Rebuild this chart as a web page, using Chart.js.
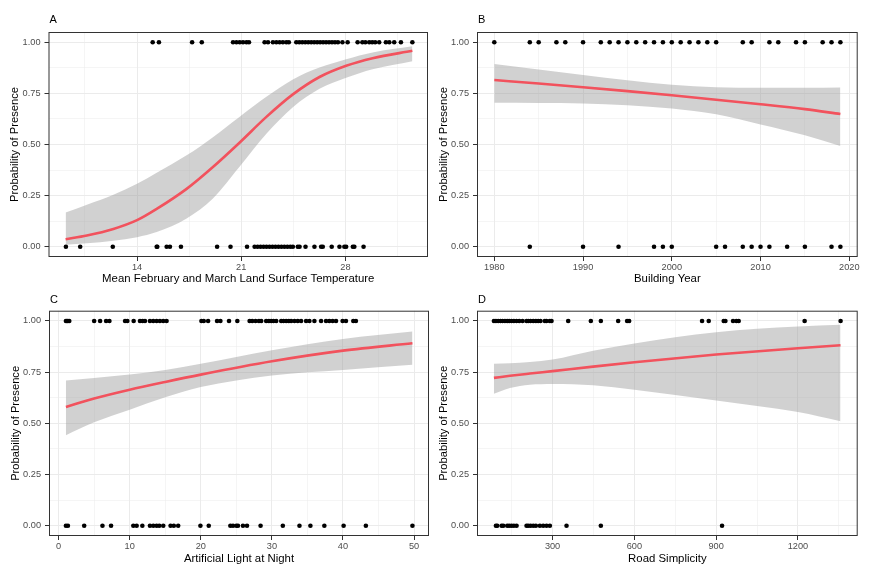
<!DOCTYPE html>
<html>
<head>
<meta charset="utf-8">
<script src="https://cdn.jsdelivr.net/npm/chart.js@4/dist/chart.umd.min.js"></script>
<style>
  body { margin: 0; background: #fff; }
  #wrap { position: relative; width: 872px; height: 574px; }
  canvas { position: absolute; }
</style>
</head>
<body>
<div id="wrap">
  <canvas id="panelA" width="436" height="287" style="left:0;top:0;width:436px;height:287px"></canvas>
  <canvas id="panelB" width="436" height="287" style="left:436px;top:0;width:436px;height:287px"></canvas>
  <canvas id="panelC" width="436" height="287" style="left:0;top:287px;width:436px;height:287px"></canvas>
  <canvas id="panelD" width="436" height="287" style="left:436px;top:287px;width:436px;height:287px"></canvas>
</div>
<script>
// y axis shared by all panels
let probTicks = [0, 0.25, 0.5, 0.75, 1];
let probMinor = [0.125, 0.375, 0.625, 0.875];

// A - land surface temperature
let tempPresent = [15.05, 15.47, 17.70, 18.35, 20.45, 20.68, 20.9, 21.12, 21.35, 21.52, 22.57, 22.8, 23.13, 23.36, 23.58, 23.8, 24.03, 24.2,
  24.7, 24.9, 25.1, 25.3, 25.5, 25.7, 25.9, 26.1, 26.3, 26.5, 26.7, 26.9, 27.1, 27.3, 27.5, 27.8, 28.15, 28.82, 29.14, 29.34, 29.6, 29.8,
  30.0, 30.27, 30.72, 30.95, 31.28, 31.73, 32.5];
let tempAbsent = [9.22, 10.18, 12.37, 15.32, 15.36, 15.99, 16.21, 16.95, 19.38, 20.28, 21.39, 21.9, 22.1, 22.3, 22.5, 22.7, 22.9, 23.1,
  23.3, 23.5, 23.7, 23.9, 24.1, 24.3, 24.47, 24.8, 24.92, 25.32, 25.92, 26.37, 26.48, 27.08, 27.6, 27.93, 28.05, 28.5, 28.6, 29.22];
let tempX     = [9.2, 10.63, 12.41, 14.0, 15.32, 17.33, 19.1, 20.9, 22.69, 24.47, 26.26, 28.05, 29.83, 32.5];
let tempFit   = [0.037, 0.055, 0.087, 0.13, 0.185, 0.283, 0.39, 0.51, 0.635, 0.745, 0.83, 0.885, 0.922, 0.958];
let tempUpper = [0.167, 0.205, 0.254, 0.308, 0.362, 0.447, 0.536, 0.636, 0.733, 0.818, 0.876, 0.917, 0.950, 0.980];
let tempLower = [0.010, 0.017, 0.030, 0.047, 0.072, 0.138, 0.236, 0.392, 0.552, 0.682, 0.772, 0.826, 0.868, 0.907];
let tempTicks = [14, 21, 28];
let tempMinor = [10.5, 17.5, 24.5, 31.5];

// B - building year
let yearPresent = [1980, 1984, 1985, 1987, 1988, 1990, 1992, 1993, 1994, 1995, 1996, 1997, 1998, 1999, 2000, 2001, 2002, 2003, 2004, 2005,
  2008, 2009, 2011, 2012, 2014, 2015, 2017, 2018, 2019];
let yearAbsent = [1984, 1990, 1994, 1998, 1999, 2000, 2005, 2006, 2008, 2009, 2010, 2011, 2013, 2015, 2018, 2019];
let yearX     = [1980, 1985, 1990, 1995, 2000, 2005, 2010, 2015, 2019];
let yearFit   = [0.815, 0.798, 0.780, 0.761, 0.741, 0.719, 0.697, 0.673, 0.649];
let yearUpper = [0.893, 0.867, 0.840, 0.814, 0.792, 0.780, 0.777, 0.777, 0.779];
let yearLower = [0.704, 0.703, 0.701, 0.692, 0.676, 0.648, 0.598, 0.545, 0.493];
let yearTicks = [1980, 1990, 2000, 2010, 2020];
let yearMinor = [1985, 1995, 2005, 2015];

// C - artificial light at night
let lightPresent = [1.03, 1.17, 1.31, 1.5, 5.0, 5.84, 6.68, 7.15, 9.35, 9.67, 10.56, 11.45, 11.82, 12.15, 12.85, 13.32, 13.79, 14.25, 14.72,
  15.19, 20.09, 20.42, 21.03, 22.29, 22.76, 23.97, 25.14, 26.87, 27.24, 27.71, 28.18, 28.5, 29.2, 29.58, 29.91, 30.23, 30.61, 31.31, 31.64,
  32.01, 32.38, 32.71, 33.18, 33.64, 34.11, 34.81, 35.28, 35.98, 36.92, 37.62, 38.08, 38.55, 39.02, 39.95, 40.42, 41.45, 41.82];
let lightAbsent = [1.03, 1.31, 3.6, 6.17, 7.38, 10.51, 10.98, 11.78, 12.85, 13.32, 13.79, 14.16, 14.72, 15.75, 16.21, 16.82, 19.95, 21.12,
  24.16, 24.53, 25.0, 25.23, 25.93, 26.5, 28.41, 31.54, 33.88, 35.42, 37.38, 40.09, 43.22, 49.77];
let lightX     = [1.03, 5, 10, 15, 20, 30, 40, 49.77];
let lightFit   = [0.580, 0.621, 0.664, 0.702, 0.738, 0.803, 0.855, 0.891];
let lightUpper = [0.709, 0.722, 0.739, 0.761, 0.791, 0.857, 0.912, 0.948];
let lightLower = [0.442, 0.505, 0.567, 0.627, 0.677, 0.734, 0.761, 0.786];
let lightTicks = [0, 10, 20, 30, 40, 50];
let lightMinor = [5, 15, 25, 35, 45];

// D - road simplicity
let roadPresent = [85.1, 92.4, 101, 109.5, 116.8, 125.4, 133.9, 141.2, 149.8, 158.3, 168.1, 177.9, 190.1, 204.7, 210.9, 219.4, 229.2,
  238.9, 247.5, 256, 271.9, 278, 290.2, 296.3, 357.4, 440.4, 477.1, 540.6, 573.5, 580.9, 848.3, 872.7, 927.7, 933.8, 961.9, 974.1, 982.6,
  1224.4, 1356.3];
let roadAbsent = [92.4, 97.2, 113.2, 119.3, 133.9, 141.2, 149.8, 158.3, 168.1, 204.7, 210.9, 219.4, 229.2, 238.9, 253.6, 265.8, 278,
  290.2, 351.3, 477.1, 921.6];
let roadX     = [85, 144, 217, 300, 449, 600, 900, 1200, 1356];
let roadFit   = [0.722, 0.732, 0.743, 0.755, 0.777, 0.798, 0.836, 0.867, 0.881];
let roadUpper = [0.791, 0.793, 0.800, 0.812, 0.855, 0.890, 0.945, 0.973, 0.981];
let roadLower = [0.644, 0.672, 0.688, 0.692, 0.686, 0.664, 0.612, 0.555, 0.510];
let roadTicks = [300, 600, 900, 1200];
let roadMinor = [150, 450, 750, 1050, 1350];

const RED = '#F2525D';
const RIBBON = 'rgba(153,153,153,0.45)';
const FONT = 'Liberation Sans, Arial, sans-serif';
Chart.defaults.font.family = FONT;
Chart.defaults.animation = false;

function pairs(xs, ys) {
  return xs.map((x, i) => ({x: x, y: ys[i]}));
}

function isIn(list, v) {
  return list.some(t => Math.abs(t - v) < 1e-6);
}

// panel letter + panel border
const panelDecor = {
  id: 'panelDecor',
  afterDatasetsDraw(chart, args, opts) {
    const c = chart.ctx, a = chart.chartArea;
    c.save();
    c.strokeStyle = '#333333';
    c.lineWidth = 1;
    c.strokeRect(a.left + 0.5, a.top + 0.5, a.right - a.left - 1, a.bottom - a.top - 1);
    c.fillStyle = '#000';
    c.font = '11px ' + FONT;
    c.textBaseline = 'middle';
    c.textAlign = 'left';
    c.fillText(opts.letter, a.left + 1, a.top + opts.letterDy);
    c.restore();
  }
};

function makePanel(id, p) {
  let ctx = document.getElementById(id).getContext('2d');
  let xAll = p.ticks.concat(p.minor).sort((a, b) => a - b);
  let yAll = probTicks.concat(probMinor).sort((a, b) => a - b);
  let points = p.present.map(x => ({x: x, y: 1})).concat(p.absent.map(x => ({x: x, y: 0})));

  return new Chart(ctx, {
    type: 'scatter',
    data: {
      datasets: [
        {
          data: points,
          pointRadius: 2.3,
          pointBackgroundColor: '#000',
          pointBorderWidth: 0,
          showLine: false
        },
        {
          type: 'line',
          data: pairs(p.x, p.fit),
          borderColor: RED,
          borderWidth: 2.6,
          pointRadius: 0,
          fill: false,
          cubicInterpolationMode: 'monotone'
        },
        {
          type: 'line',
          data: pairs(p.x, p.upper),
          borderColor: 'transparent',
          backgroundColor: RIBBON,
          pointRadius: 0,
          fill: '+1',
          cubicInterpolationMode: 'monotone'
        },
        {
          type: 'line',
          data: pairs(p.x, p.lower),
          borderColor: 'transparent',
          pointRadius: 0,
          fill: false,
          cubicInterpolationMode: 'monotone'
        }
      ]
    },
    options: {
      responsive: false,
      layout: { padding: { top: p.top, right: p.right, left: 0, bottom: 0 } },
      plugins: {
        legend: { display: false },
        tooltip: { enabled: false },
        panelDecor: { letter: p.letter, letterDy: p.letterDy }
      },
      scales: {
        x: {
          type: 'linear',
          min: p.min,
          max: p.max,
          afterBuildTicks: s => { s.ticks = xAll.map(v => ({value: v})); },
          afterFit: s => { s.height = p.xHeight; s.paddingLeft = 0; s.paddingRight = 0; },
          border: { display: false },
          grid: {
            color: '#ebebeb',
            lineWidth: c => isIn(p.ticks, c.tick.value) ? 1 : 0.5,
            tickLength: 4,
            tickColor: c => isIn(p.ticks, c.tick.value) ? '#333333' : 'rgba(0,0,0,0)',
            tickWidth: 1
          },
          ticks: {
            autoSkip: false,
            maxRotation: 0,
            padding: 1,
            color: '#4d4d4d',
            font: { size: 9.2 },
            callback: v => isIn(p.ticks, v) ? String(v) : ''
          },
          title: {
            display: true,
            text: p.xTitle,
            color: '#000',
            font: { size: 11.4 },
            padding: { top: 0, bottom: p.xTitlePad }
          }
        },
        y: {
          type: 'linear',
          min: -0.05,
          max: 1.05,
          afterBuildTicks: s => { s.ticks = yAll.map(v => ({value: v})); },
          afterFit: s => { s.width = p.yWidth; s.paddingTop = 0; s.paddingBottom = 0; },
          border: { display: false },
          grid: {
            color: '#ebebeb',
            lineWidth: c => isIn(probTicks, c.tick.value) ? 1 : 0.5,
            tickLength: 4,
            tickColor: c => isIn(probTicks, c.tick.value) ? '#333333' : 'rgba(0,0,0,0)',
            tickWidth: 1
          },
          ticks: {
            autoSkip: false,
            padding: 4,
            color: '#4d4d4d',
            font: { size: 9.2 },
            callback: v => isIn(probTicks, v) ? v.toFixed(2) : ''
          },
          title: {
            display: true,
            text: 'Probability of Presence',
            color: '#000',
            font: { size: 11.2 },
            padding: { top: p.yTitlePad, bottom: 0 }
          }
        }
      }
    },
    plugins: [panelDecor]
  });
}

makePanel('panelA', {
  letter: 'A', letterDy: -12,
  present: tempPresent, absent: tempAbsent,
  x: tempX, fit: tempFit, upper: tempUpper, lower: tempLower,
  ticks: tempTicks, minor: tempMinor, min: 8.05, max: 33.55,
  xTitle: 'Mean February and March Land Surface Temperature',
  top: 32, right: 8, yWidth: 48.5, xHeight: 30, xTitlePad: 1.5, yTitlePad: 8.2
});

makePanel('panelB', {
  letter: 'B', letterDy: -12,
  present: yearPresent, absent: yearAbsent,
  x: yearX, fit: yearFit, upper: yearUpper, lower: yearLower,
  ticks: yearTicks, minor: yearMinor, min: 1978.05, max: 2020.95,
  xTitle: 'Building Year',
  top: 32, right: 14.3, yWidth: 41, xHeight: 30, xTitlePad: 1.5, yTitlePad: 1.3
});

makePanel('panelC', {
  letter: 'C', letterDy: -11,
  present: lightPresent, absent: lightAbsent,
  x: lightX, fit: lightFit, upper: lightUpper, lower: lightLower,
  ticks: lightTicks, minor: lightMinor, min: -1.35, max: 52.1,
  xTitle: 'Artificial Light at Night',
  top: 23.7, right: 7, yWidth: 49, xHeight: 38, xTitlePad: 7.9, yTitlePad: 8.8
});

makePanel('panelD', {
  letter: 'D', letterDy: -11,
  present: roadPresent, absent: roadAbsent,
  x: roadX, fit: roadFit, upper: roadUpper, lower: roadLower,
  ticks: roadTicks, minor: roadMinor, min: 23, max: 1419,
  xTitle: 'Road Simplicity',
  top: 23.7, right: 14.3, yWidth: 41, xHeight: 38, xTitlePad: 7.9, yTitlePad: 1.6
});
</script>
</body>
</html>
